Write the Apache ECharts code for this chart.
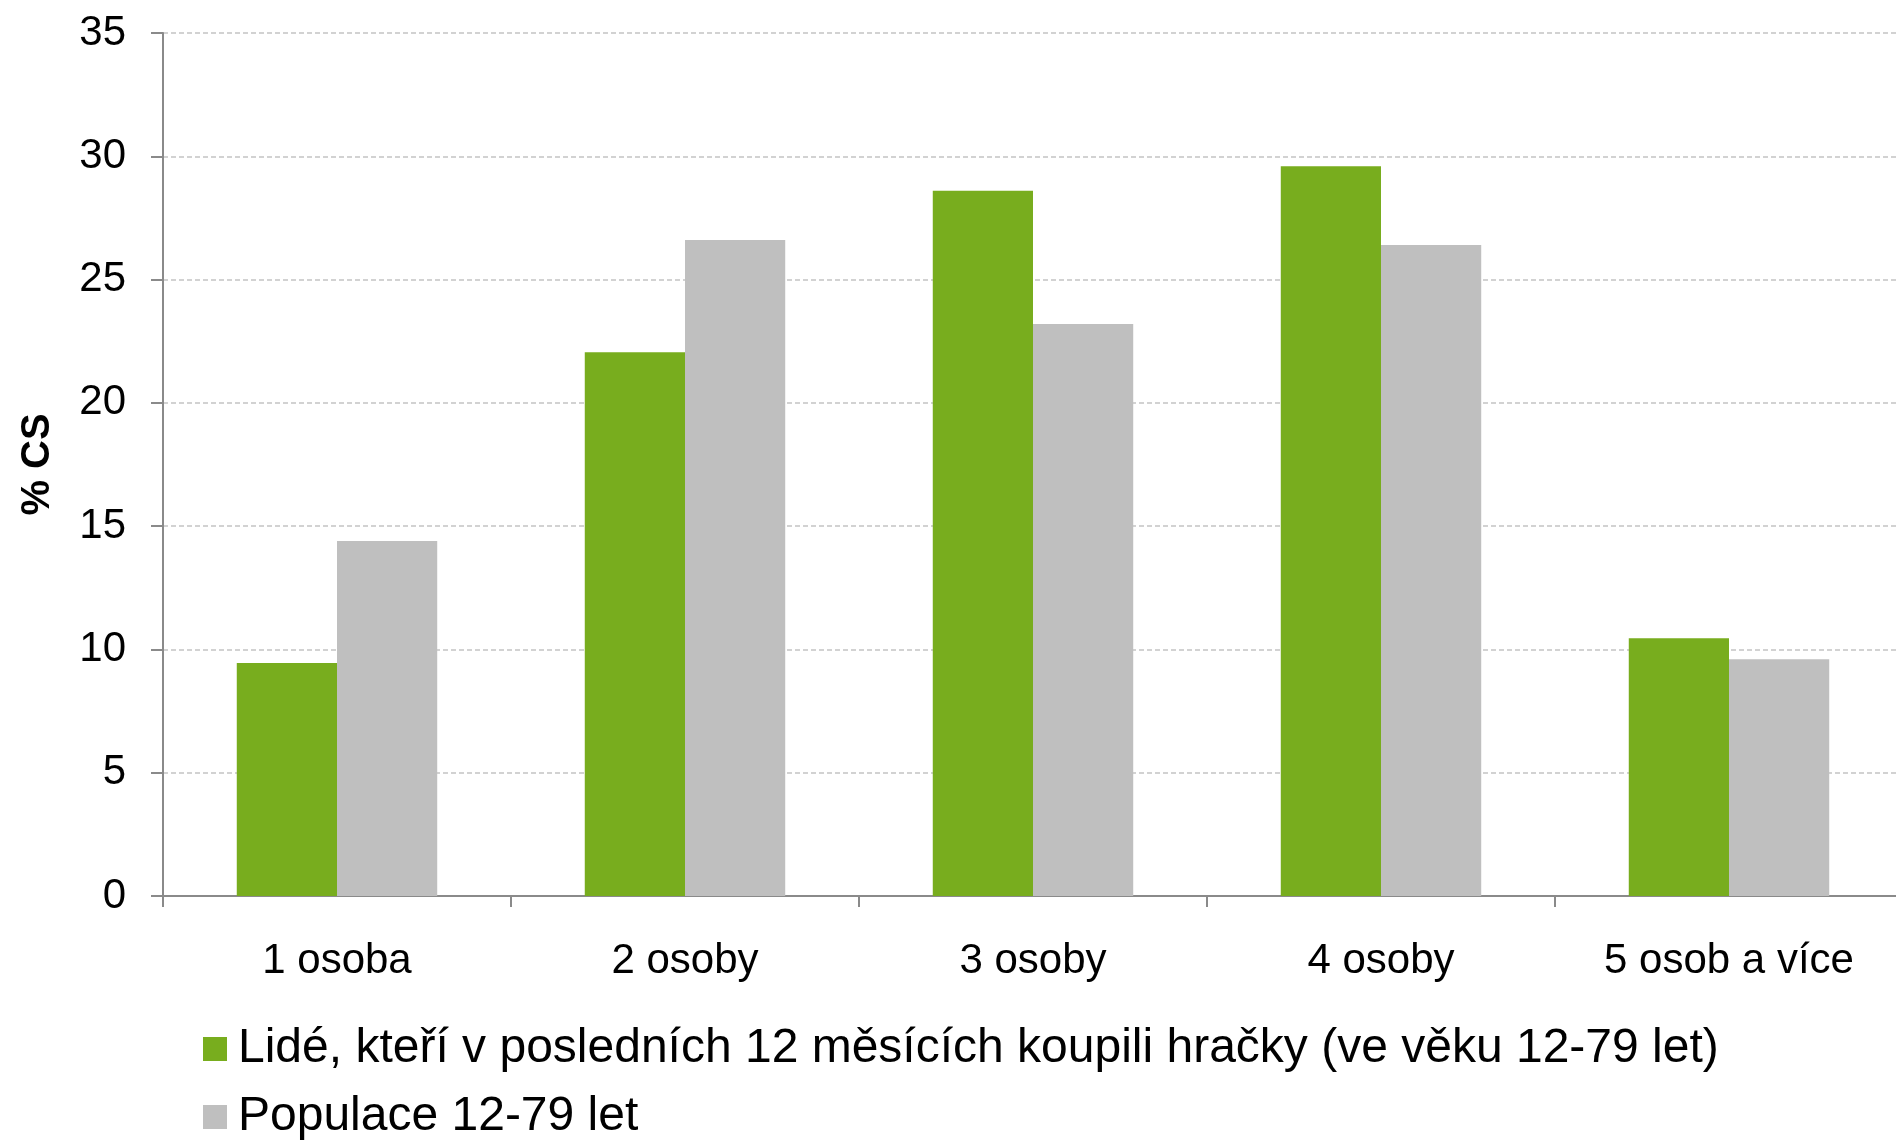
<!DOCTYPE html>
<html>
<head>
<meta charset="utf-8">
<script src="https://cdn.jsdelivr.net/npm/echarts@6/dist/echarts.min.js"></script>
<style>
html,body{margin:0;padding:0;background:#fff;}
#chart{width:1896px;height:1141px;}
</style>
</head>
<body>
<div id="chart"></div>
<script>
const categories = ['1 osoba', '2 osoby', '3 osoby', '4 osoby', '5 osob a více'];
const seriesNames = ['Lidé, kteří v posledních 12 měsících koupili hračky (ve věku 12-79 let)', 'Populace 12-79 let'];
const buyers = [9.45, 22.05, 28.6, 29.6, 10.45];
const population = [14.4, 26.6, 23.2, 26.4, 9.6];
const yTicks = {min: 0, max: 35, interval: 5};

const FONT = "'Liberation Sans', Arial, sans-serif";
const chart = echarts.init(document.getElementById('chart'), null, {renderer: 'canvas'});
chart.setOption({
  animation: false,
  backgroundColor: '#ffffff',
  textStyle: {fontFamily: FONT},
  grid: {left: 163, top: 33, width: 1740, bottom: 245, containLabel: false, outerBoundsMode: 'none'},
  legend: {
    orient: 'vertical',
    left: 203,
    top: 1025,
    padding: 0,
    height: 116,
    itemWidth: 24,
    itemHeight: 24,
    itemGap: 20,
    icon: 'rect',
    textStyle: {fontSize: 48, color: '#000', fontFamily: FONT, lineHeight: 48, padding: [0, 0, 0, 6]},
    data: seriesNames
  },
  xAxis: {
    type: 'category',
    data: categories,
    axisLine: {show: true, lineStyle: {color: '#8a8a8a', width: 2}},
    axisTick: {show: true, length: 11, lineStyle: {color: '#8a8a8a', width: 2}},
    axisLabel: {fontSize: 42, color: '#000', margin: 44, fontFamily: FONT},
    splitLine: {show: false}
  },
  yAxis: {
    type: 'value',
    min: yTicks.min,
    max: yTicks.max,
    interval: yTicks.interval,
    name: '% CS',
    nameLocation: 'middle',
    nameRotate: 90,
    nameGap: 105,
    nameTextStyle: {fontSize: 40, fontWeight: 'bold', color: '#000', fontFamily: FONT},
    axisLine: {show: true, lineStyle: {color: '#8a8a8a', width: 2}},
    axisTick: {show: true, length: 12, lineStyle: {color: '#8a8a8a', width: 2}},
    axisLabel: {fontSize: 42, color: '#000', margin: 37, fontFamily: FONT},
    splitLine: {show: true, lineStyle: {color: '#c4c4c4', width: 1.5, type: [5, 3]}}
  },
  series: [
    {
      name: seriesNames[0],
      type: 'bar',
      data: buyers,
      barGap: '0%',
      barCategoryGap: '42.4%',
      itemStyle: {color: '#78AD1E'}
    },
    {
      name: seriesNames[1],
      type: 'bar',
      data: population,
      barGap: '0%',
      barCategoryGap: '42.4%',
      itemStyle: {color: '#BFBFBF'}
    }
  ]
});
</script>
</body>
</html>
